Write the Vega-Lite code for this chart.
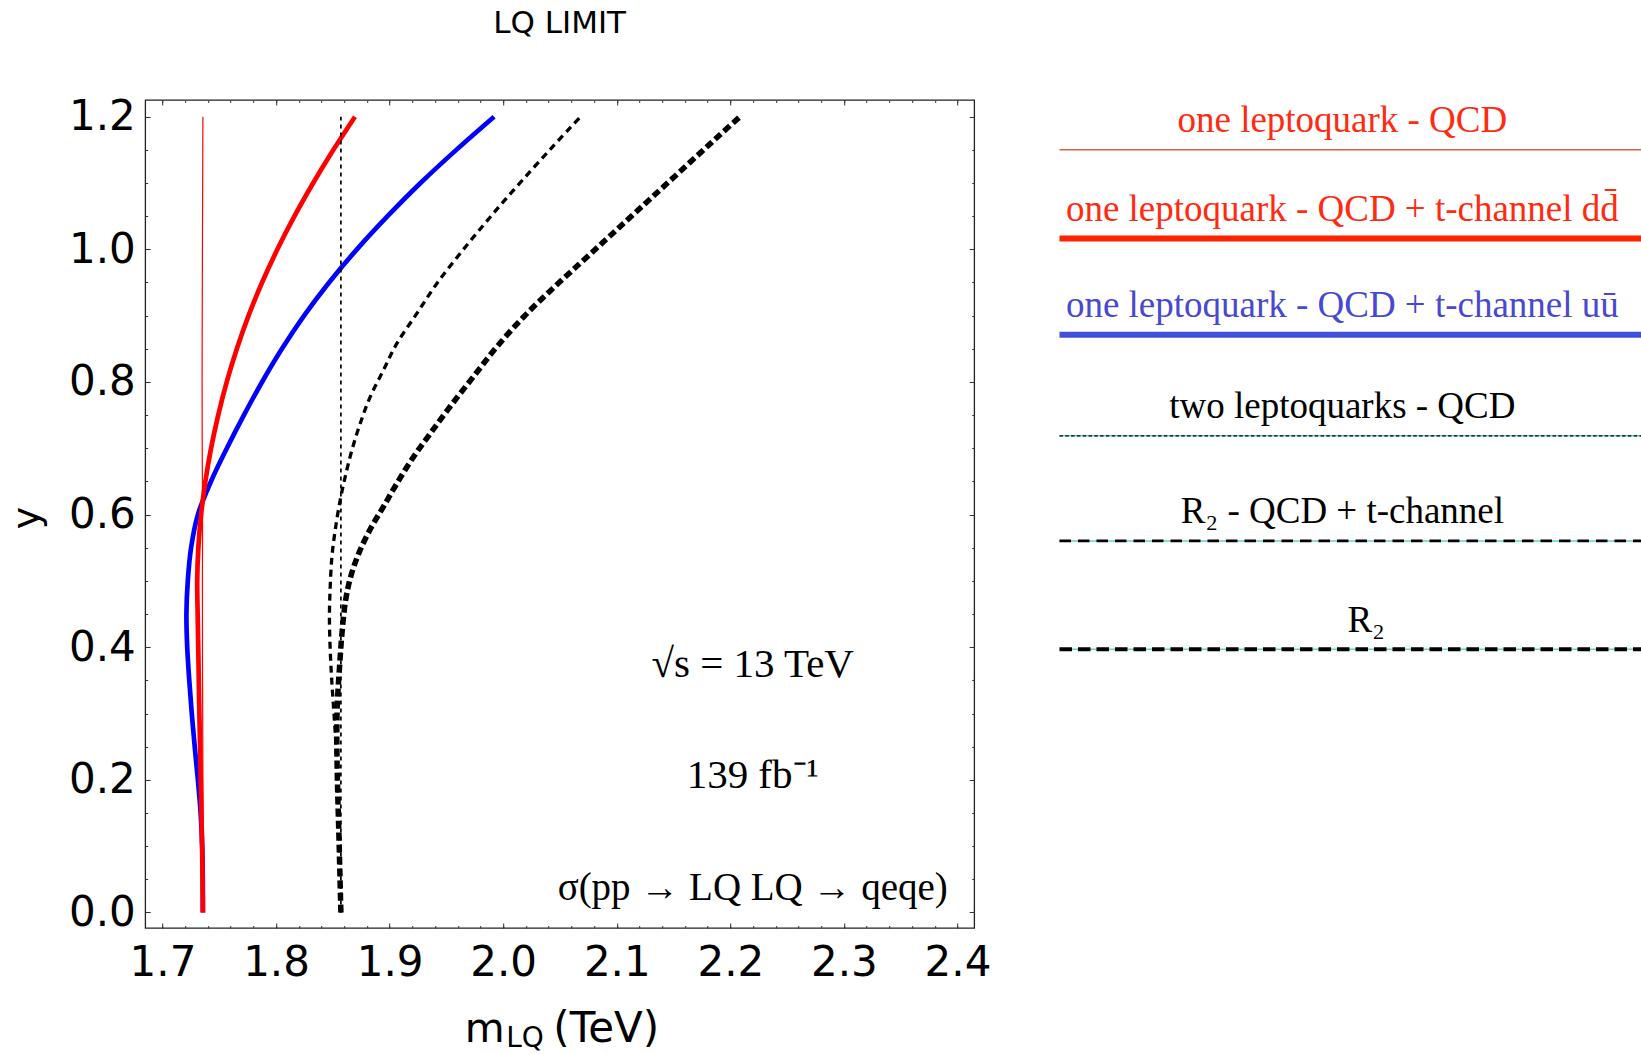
{
  "$schema": "https://vega.github.io/schema/vega-lite/v6.json",
  "padding": {"left": 7.2, "top": 7, "right": 0, "bottom": 0},
  "config": {
    "font": "DejaVu Sans",
    "view": {"stroke": "#222222", "strokeWidth": 1.3},
    "axis": {"grid": false, "domain": false, "labelColor": "black", "titleColor": "black", "tickColor": "#333333", "titleFontWeight": "normal"}
  },
  "spacing": 64.3,
  "hconcat": [
    {
      "width": 829,
      "height": 828,
      "title": {"text": "LQ LIMIT", "font": "DejaVu Sans", "fontSize": 31, "fontWeight": "normal", "color": "black", "anchor": "middle", "frame": "group", "baseline": "alphabetic", "offset": 32},
      "data": {"values": [
        {"s": "qcd1", "m": 1.7361, "y": 0}, {"s": "qcd1", "m": 1.7358, "y": 0.1}, {"s": "qcd1", "m": 1.7356, "y": 0.2}, {"s": "qcd1", "m": 1.7354, "y": 0.3}, {"s": "qcd1", "m": 1.7352, "y": 0.4}, {"s": "qcd1", "m": 1.7352, "y": 0.5}, {"s": "qcd1", "m": 1.7353, "y": 0.6}, {"s": "qcd1", "m": 1.735, "y": 0.7}, {"s": "qcd1", "m": 1.7349, "y": 0.8}, {"s": "qcd1", "m": 1.735, "y": 0.9}, {"s": "qcd1", "m": 1.7352, "y": 1.0}, {"s": "qcd1", "m": 1.7354, "y": 1.1}, {"s": "qcd1", "m": 1.7356, "y": 1.2},
        {"s": "dd", "m": 1.7356, "y": 0}, {"s": "dd", "m": 1.7349, "y": 0.1}, {"s": "dd", "m": 1.7337, "y": 0.2}, {"s": "dd", "m": 1.7325, "y": 0.3}, {"s": "dd", "m": 1.7315, "y": 0.4}, {"s": "dd", "m": 1.731, "y": 0.45}, {"s": "dd", "m": 1.7306, "y": 0.5}, {"s": "dd", "m": 1.7316, "y": 0.55}, {"s": "dd", "m": 1.734, "y": 0.6}, {"s": "dd", "m": 1.7378, "y": 0.65}, {"s": "dd", "m": 1.7428, "y": 0.7}, {"s": "dd", "m": 1.7491, "y": 0.75}, {"s": "dd", "m": 1.7566, "y": 0.8}, {"s": "dd", "m": 1.7655, "y": 0.85}, {"s": "dd", "m": 1.7758, "y": 0.9}, {"s": "dd", "m": 1.7877, "y": 0.95}, {"s": "dd", "m": 1.8012, "y": 1.0}, {"s": "dd", "m": 1.8162, "y": 1.05}, {"s": "dd", "m": 1.8327, "y": 1.1}, {"s": "dd", "m": 1.8505, "y": 1.15}, {"s": "dd", "m": 1.8695, "y": 1.2},
        {"s": "uu", "m": 1.7356, "y": 0}, {"s": "uu", "m": 1.7355, "y": 0.05}, {"s": "uu", "m": 1.735, "y": 0.1}, {"s": "uu", "m": 1.7336, "y": 0.15}, {"s": "uu", "m": 1.7312, "y": 0.2}, {"s": "uu", "m": 1.7284, "y": 0.25}, {"s": "uu", "m": 1.7258, "y": 0.3}, {"s": "uu", "m": 1.7236, "y": 0.35}, {"s": "uu", "m": 1.7218, "y": 0.4}, {"s": "uu", "m": 1.7211, "y": 0.45}, {"s": "uu", "m": 1.7223, "y": 0.5}, {"s": "uu", "m": 1.7252, "y": 0.55}, {"s": "uu", "m": 1.7312, "y": 0.6}, {"s": "uu", "m": 1.7427, "y": 0.65}, {"s": "uu", "m": 1.7567, "y": 0.7}, {"s": "uu", "m": 1.7717, "y": 0.75}, {"s": "uu", "m": 1.7877, "y": 0.8}, {"s": "uu", "m": 1.8052, "y": 0.85}, {"s": "uu", "m": 1.8247, "y": 0.9}, {"s": "uu", "m": 1.8467, "y": 0.95}, {"s": "uu", "m": 1.8712, "y": 1.0}, {"s": "uu", "m": 1.8982, "y": 1.05}, {"s": "uu", "m": 1.9272, "y": 1.1}, {"s": "uu", "m": 1.9587, "y": 1.15}, {"s": "uu", "m": 1.992, "y": 1.2},
        {"s": "two", "m": 1.8571, "y": 0}, {"s": "two", "m": 1.8571, "y": 1.2},
        {"s": "r2t", "m": 1.8571, "y": 0}, {"s": "r2t", "m": 1.8565, "y": 0.069}, {"s": "r2t", "m": 1.8553, "y": 0.1444}, {"s": "r2t", "m": 1.8541, "y": 0.1948}, {"s": "r2t", "m": 1.853, "y": 0.245}, {"s": "r2t", "m": 1.8512, "y": 0.2952}, {"s": "r2t", "m": 1.8492, "y": 0.3455}, {"s": "r2t", "m": 1.8477, "y": 0.3958}, {"s": "r2t", "m": 1.847, "y": 0.446}, {"s": "r2t", "m": 1.8477, "y": 0.4912}, {"s": "r2t", "m": 1.8492, "y": 0.5364}, {"s": "r2t", "m": 1.8521, "y": 0.5767}, {"s": "r2t", "m": 1.8565, "y": 0.6219}, {"s": "r2t", "m": 1.8609, "y": 0.657}, {"s": "r2t", "m": 1.8668, "y": 0.6973}, {"s": "r2t", "m": 1.8741, "y": 0.7375}, {"s": "r2t", "m": 1.8829, "y": 0.7776}, {"s": "r2t", "m": 1.8946, "y": 0.8179}, {"s": "r2t", "m": 1.9064, "y": 0.8581}, {"s": "r2t", "m": 1.924, "y": 0.9034}, {"s": "r2t", "m": 1.9416, "y": 0.9486}, {"s": "r2t", "m": 1.9621, "y": 0.9938}, {"s": "r2t", "m": 1.9838, "y": 1.039}, {"s": "r2t", "m": 2.0039, "y": 1.0792}, {"s": "r2t", "m": 2.0248, "y": 1.1194}, {"s": "r2t", "m": 2.0434, "y": 1.1545}, {"s": "r2t", "m": 2.0597, "y": 1.1847}, {"s": "r2t", "m": 2.0681, "y": 1.2},
        {"s": "r2", "m": 1.8571, "y": 0}, {"s": "r2", "m": 1.8562, "y": 0.06}, {"s": "r2", "m": 1.8553, "y": 0.12}, {"s": "r2", "m": 1.8541, "y": 0.195}, {"s": "r2", "m": 1.8535, "y": 0.27}, {"s": "r2", "m": 1.8541, "y": 0.32}, {"s": "r2", "m": 1.8559, "y": 0.37}, {"s": "r2", "m": 1.858, "y": 0.42}, {"s": "r2", "m": 1.8612, "y": 0.47}, {"s": "r2", "m": 1.8655, "y": 0.505}, {"s": "r2", "m": 1.8725, "y": 0.54}, {"s": "r2", "m": 1.8829, "y": 0.578}, {"s": "r2", "m": 1.8946, "y": 0.612}, {"s": "r2", "m": 1.9064, "y": 0.647}, {"s": "r2", "m": 1.921, "y": 0.687}, {"s": "r2", "m": 1.9357, "y": 0.722}, {"s": "r2", "m": 1.9533, "y": 0.763}, {"s": "r2", "m": 1.9738, "y": 0.808}, {"s": "r2", "m": 1.9944, "y": 0.853}, {"s": "r2", "m": 2.0179, "y": 0.898}, {"s": "r2", "m": 2.043, "y": 0.94}, {"s": "r2", "m": 2.0665, "y": 0.977}, {"s": "r2", "m": 2.0881, "y": 1.011}, {"s": "r2", "m": 2.1059, "y": 1.039}, {"s": "r2", "m": 2.1237, "y": 1.067}, {"s": "r2", "m": 2.1396, "y": 1.092}, {"s": "r2", "m": 2.1567, "y": 1.119}, {"s": "r2", "m": 2.1745, "y": 1.147}, {"s": "r2", "m": 2.1904, "y": 1.172}, {"s": "r2", "m": 2.2084, "y": 1.2}
      ]},
      "resolve": {"axis": {"x": "independent", "y": "independent"}},
      "layer": [
        {
          "transform": [{"filter": "datum.s === 'uu'"}],
          "mark": {"type": "line", "color": "#0000ff", "strokeWidth": 4.7, "interpolate": "catmull-rom"},
          "encoding": {
            "x": {"field": "m", "type": "quantitative", "scale": {"domain": [1.6848, 2.4147], "nice": false, "zero": false},
              "axis": {"orient": "bottom", "values": [1.7, 1.8, 1.9, 2.0, 2.1, 2.2, 2.3, 2.4], "ticks": false, "labels": true, "format": ".1f", "labelFont": "DejaVu Sans", "labelFontSize": 42, "labelPadding": 15, "labelFlush": false, "labelOverlap": false,
                "title": "m", "titleFont": "DejaVu Sans", "titleFontSize": 41, "titleX": 339, "titleY": 114, "titleAlign": "center", "titleBaseline": "alphabetic"}},
            "y": {"field": "y", "type": "quantitative", "scale": {"domain": [-0.0234, 1.2252], "nice": false, "zero": false},
              "axis": {"orient": "left", "values": [0, 0.2, 0.4, 0.6, 0.8, 1.0, 1.2], "ticks": false, "labels": true, "format": ".1f", "labelFont": "DejaVu Sans", "labelFontSize": 42, "labelPadding": 10, "labelFlush": false, "labelOverlap": false,
                "title": "y", "titleFont": "DejaVu Sans", "titleFontSize": 38, "titleX": -107, "titleY": 417.5, "titleAngle": 270, "titleAlign": "center", "titleBaseline": "alphabetic"}},
            "order": {"field": "y", "type": "quantitative"}
          }
        },
        {
          "transform": [{"filter": "datum.s === 'dd'"}],
          "mark": {"type": "line", "color": "#ff0000", "strokeWidth": 4.7, "interpolate": "catmull-rom"},
          "encoding": {
            "x": {"field": "m", "type": "quantitative", "scale": {"domain": [1.6848, 2.4147], "nice": false, "zero": false},
              "axis": {"orient": "bottom", "values": [1.7, 1.8, 1.9, 2.0, 2.1, 2.2, 2.3, 2.4], "labels": false, "ticks": true, "tickSize": -5,
                "title": "LQ", "titleFont": "DejaVu Sans", "titleFontSize": 28, "titleX": 379.4, "titleY": 119, "titleAlign": "center", "titleBaseline": "alphabetic"}},
            "y": {"field": "y", "type": "quantitative", "scale": {"domain": [-0.0234, 1.2252], "nice": false, "zero": false},
              "axis": {"orient": "left", "values": [0, 0.2, 0.4, 0.6, 0.8, 1.0, 1.2], "labels": false, "ticks": true, "tickSize": -5, "title": null}},
            "order": {"field": "y", "type": "quantitative"}
          }
        },
        {
          "transform": [{"filter": "datum.s === 'qcd1'"}],
          "mark": {"type": "line", "color": "#ff0000", "strokeWidth": 1.2},
          "encoding": {
            "x": {"field": "m", "type": "quantitative", "scale": {"domain": [1.6848, 2.4147], "nice": false, "zero": false},
              "axis": {"orient": "bottom", "values": [1.7, 1.72, 1.74, 1.76, 1.78, 1.8, 1.82, 1.84, 1.86, 1.88, 1.9, 1.92, 1.94, 1.96, 1.98, 2.0, 2.02, 2.04, 2.06, 2.08, 2.1, 2.12, 2.14, 2.16, 2.18, 2.2, 2.22, 2.24, 2.26, 2.28, 2.3, 2.32, 2.34, 2.36, 2.38, 2.4], "labels": false, "ticks": true, "tickSize": -2.5,
                "title": "(TeV)", "titleFont": "DejaVu Sans", "titleFontSize": 42, "titleX": 460.5, "titleY": 114, "titleAlign": "center", "titleBaseline": "alphabetic"}},
            "y": {"field": "y", "type": "quantitative", "scale": {"domain": [-0.0234, 1.2252], "nice": false, "zero": false},
              "axis": {"orient": "left", "values": [0, 0.05, 0.1, 0.15, 0.2, 0.25, 0.3, 0.35, 0.4, 0.45, 0.5, 0.55, 0.6, 0.65, 0.7, 0.75, 0.8, 0.85, 0.9, 0.95, 1.0, 1.05, 1.1, 1.15, 1.2], "labels": false, "ticks": true, "tickSize": -2.5, "title": null}},
            "order": {"field": "y", "type": "quantitative"}
          }
        },
        {
          "transform": [{"filter": "datum.s === 'two'"}],
          "mark": {"type": "line", "color": "black", "strokeWidth": 1.7, "strokeDash": [4, 4]},
          "encoding": {
            "x": {"field": "m", "type": "quantitative", "scale": {"domain": [1.6848, 2.4147], "nice": false, "zero": false},
              "axis": {"orient": "top", "values": [1.7, 1.8, 1.9, 2.0, 2.1, 2.2, 2.3, 2.4], "labels": false, "ticks": true, "tickSize": -5, "title": null}},
            "y": {"field": "y", "type": "quantitative", "scale": {"domain": [-0.0234, 1.2252], "nice": false, "zero": false},
              "axis": {"orient": "right", "values": [0, 0.2, 0.4, 0.6, 0.8, 1.0, 1.2], "labels": false, "ticks": true, "tickSize": -5, "title": null}},
            "order": {"field": "y", "type": "quantitative"}
          }
        },
        {
          "transform": [{"filter": "datum.s === 'r2t'"}],
          "mark": {"type": "line", "color": "black", "strokeWidth": 3.3, "strokeDash": [7, 5], "interpolate": "catmull-rom"},
          "encoding": {
            "x": {"field": "m", "type": "quantitative", "scale": {"domain": [1.6848, 2.4147], "nice": false, "zero": false},
              "axis": {"orient": "top", "values": [1.7, 1.72, 1.74, 1.76, 1.78, 1.8, 1.82, 1.84, 1.86, 1.88, 1.9, 1.92, 1.94, 1.96, 1.98, 2.0, 2.02, 2.04, 2.06, 2.08, 2.1, 2.12, 2.14, 2.16, 2.18, 2.2, 2.22, 2.24, 2.26, 2.28, 2.3, 2.32, 2.34, 2.36, 2.38, 2.4], "labels": false, "ticks": true, "tickSize": -2.5, "title": null}},
            "y": {"field": "y", "type": "quantitative", "scale": {"domain": [-0.0234, 1.2252], "nice": false, "zero": false},
              "axis": {"orient": "right", "values": [0, 0.05, 0.1, 0.15, 0.2, 0.25, 0.3, 0.35, 0.4, 0.45, 0.5, 0.55, 0.6, 0.65, 0.7, 0.75, 0.8, 0.85, 0.9, 0.95, 1.0, 1.05, 1.1, 1.15, 1.2], "labels": false, "ticks": true, "tickSize": -2.5, "title": null}},
            "order": {"field": "y", "type": "quantitative"}
          }
        },
        {
          "transform": [{"filter": "datum.s === 'r2'"}],
          "mark": {"type": "line", "color": "black", "strokeWidth": 5.5, "strokeDash": [8, 4], "interpolate": "catmull-rom"},
          "encoding": {
            "x": {"field": "m", "type": "quantitative", "scale": {"domain": [1.6848, 2.4147], "nice": false, "zero": false}, "axis": null},
            "y": {"field": "y", "type": "quantitative", "scale": {"domain": [-0.0234, 1.2252], "nice": false, "zero": false}, "axis": null},
            "order": {"field": "y", "type": "quantitative"}
          }
        },
        {
          "data": {"values": [{}]},
          "mark": {"type": "text", "text": "√s = 13 TeV", "font": "Liberation Serif", "fontSize": 41, "align": "center", "baseline": "alphabetic", "color": "black"},
          "encoding": {
            "x": {"datum": 2.2197, "type": "quantitative", "scale": {"domain": [1.6848, 2.4147], "nice": false, "zero": false}, "axis": null},
            "y": {"datum": 0.3555, "type": "quantitative", "scale": {"domain": [-0.0234, 1.2252], "nice": false, "zero": false}, "axis": null}
          }
        },
        {
          "data": {"values": [{}]},
          "mark": {"type": "text", "text": "139 fb⁻¹", "font": "Liberation Serif", "fontSize": 41, "align": "center", "baseline": "alphabetic", "color": "black"},
          "encoding": {
            "x": {"datum": 2.2197, "type": "quantitative", "scale": {"domain": [1.6848, 2.4147], "nice": false, "zero": false}, "axis": null},
            "y": {"datum": 0.1872, "type": "quantitative", "scale": {"domain": [-0.0234, 1.2252], "nice": false, "zero": false}, "axis": null}
          }
        },
        {
          "data": {"values": [{}]},
          "mark": {"type": "text", "text": "σ(pp → LQ LQ → qeqe)", "font": "Liberation Serif", "fontSize": 39, "align": "center", "baseline": "alphabetic", "color": "black"},
          "encoding": {
            "x": {"datum": 2.2197, "type": "quantitative", "scale": {"domain": [1.6848, 2.4147], "nice": false, "zero": false}, "axis": null},
            "y": {"datum": 0.0188, "type": "quantitative", "scale": {"domain": [-0.0234, 1.2252], "nice": false, "zero": false}, "axis": null}
          }
        }
      ]
    },
    {
      "width": 582,
      "height": 828,
      "view": {"stroke": null},
      "data": {"values": [
        {"entry": "one leptoquark - QCD", "k": "a", "row": 1},
        {"entry": "one leptoquark - QCD + t-channel dd̄", "k": "b", "row": 2},
        {"entry": "one leptoquark - QCD + t-channel uū", "k": "c", "row": 3},
        {"entry": "two leptoquarks - QCD", "k": "d", "row": 4},
        {"entry": "R₂ - QCD + t-channel", "k": "e", "row": 5},
        {"entry": "R₂", "k": "f", "row": 6}
      ]},
      "encoding": {
        "y": {"field": "row", "type": "quantitative", "scale": {"type": "pow", "exponent": 1.15, "domain": [0.3697, 8.473], "reverse": true, "nice": false, "zero": false}, "axis": null}
      },
      "layer": [
        {
          "transform": [{"filter": "datum.k === 'd' || datum.k === 'e' || datum.k === 'f'"}],
          "mark": {"type": "rule", "color": "#5fd6c6", "strokeWidth": 1.5},
          "encoding": {"x": {"datum": 0, "type": "quantitative", "scale": {"domain": [0, 1], "nice": false, "zero": false}, "axis": null}, "x2": {"datum": 1}}
        },
        {
          "transform": [{"filter": "datum.k === 'a'"}],
          "mark": {"type": "rule", "color": "#d9623e", "strokeWidth": 1.5},
          "encoding": {"x": {"datum": 0, "type": "quantitative", "scale": {"domain": [0, 1], "nice": false, "zero": false}, "axis": null}, "x2": {"datum": 1}}
        },
        {
          "transform": [{"filter": "datum.k === 'b'"}],
          "mark": {"type": "rule", "color": "#ff2200", "strokeWidth": 6},
          "encoding": {"x": {"datum": 0, "type": "quantitative", "scale": {"domain": [0, 1], "nice": false, "zero": false}, "axis": null}, "x2": {"datum": 1}}
        },
        {
          "transform": [{"filter": "datum.k === 'c'"}],
          "mark": {"type": "rule", "color": "#4050d8", "strokeWidth": 6},
          "encoding": {"x": {"datum": 0, "type": "quantitative", "scale": {"domain": [0, 1], "nice": false, "zero": false}, "axis": null}, "x2": {"datum": 1}}
        },
        {
          "transform": [{"filter": "datum.k === 'd'"}],
          "mark": {"type": "rule", "color": "black", "strokeWidth": 1.2, "strokeDash": [3.5, 2.3]},
          "encoding": {"x": {"datum": 0, "type": "quantitative", "scale": {"domain": [0, 1], "nice": false, "zero": false}, "axis": null}, "x2": {"datum": 1}}
        },
        {
          "transform": [{"filter": "datum.k === 'e'"}],
          "mark": {"type": "rule", "color": "black", "strokeWidth": 2.7, "strokeDash": [11.5, 7]},
          "encoding": {"x": {"datum": 0, "type": "quantitative", "scale": {"domain": [0, 1], "nice": false, "zero": false}, "axis": null}, "x2": {"datum": 1}}
        },
        {
          "transform": [{"filter": "datum.k === 'f'"}],
          "mark": {"type": "rule", "color": "black", "strokeWidth": 4, "strokeDash": [12.5, 6]},
          "encoding": {"x": {"datum": 0, "type": "quantitative", "scale": {"domain": [0, 1], "nice": false, "zero": false}, "axis": null}, "x2": {"datum": 1}}
        },
        {
          "transform": [{"filter": "datum.k !== 'f'"}],
          "mark": {"type": "text", "font": "Liberation Serif", "fontSize": 37, "align": "center", "baseline": "alphabetic", "dy": -18},
          "encoding": {
            "x": {"datum": 0.486, "type": "quantitative", "scale": {"domain": [0, 1], "nice": false, "zero": false}, "axis": null},
            "text": {"field": "entry"},
            "color": {"field": "k", "type": "nominal", "scale": {"domain": ["a", "b", "c", "d", "e", "f"], "range": ["#ff2a10", "#ff2a10", "#4848d0", "black", "black", "black"]}, "legend": null}
          }
        },
        {
          "transform": [{"filter": "datum.k === 'f'"}],
          "mark": {"type": "text", "font": "Liberation Serif", "fontSize": 37, "align": "center", "baseline": "alphabetic", "dy": -17, "color": "black"},
          "encoding": {
            "x": {"datum": 0.527, "type": "quantitative", "scale": {"domain": [0, 1], "nice": false, "zero": false}, "axis": null},
            "text": {"field": "entry"}
          }
        }
      ]
    }
  ]
}
